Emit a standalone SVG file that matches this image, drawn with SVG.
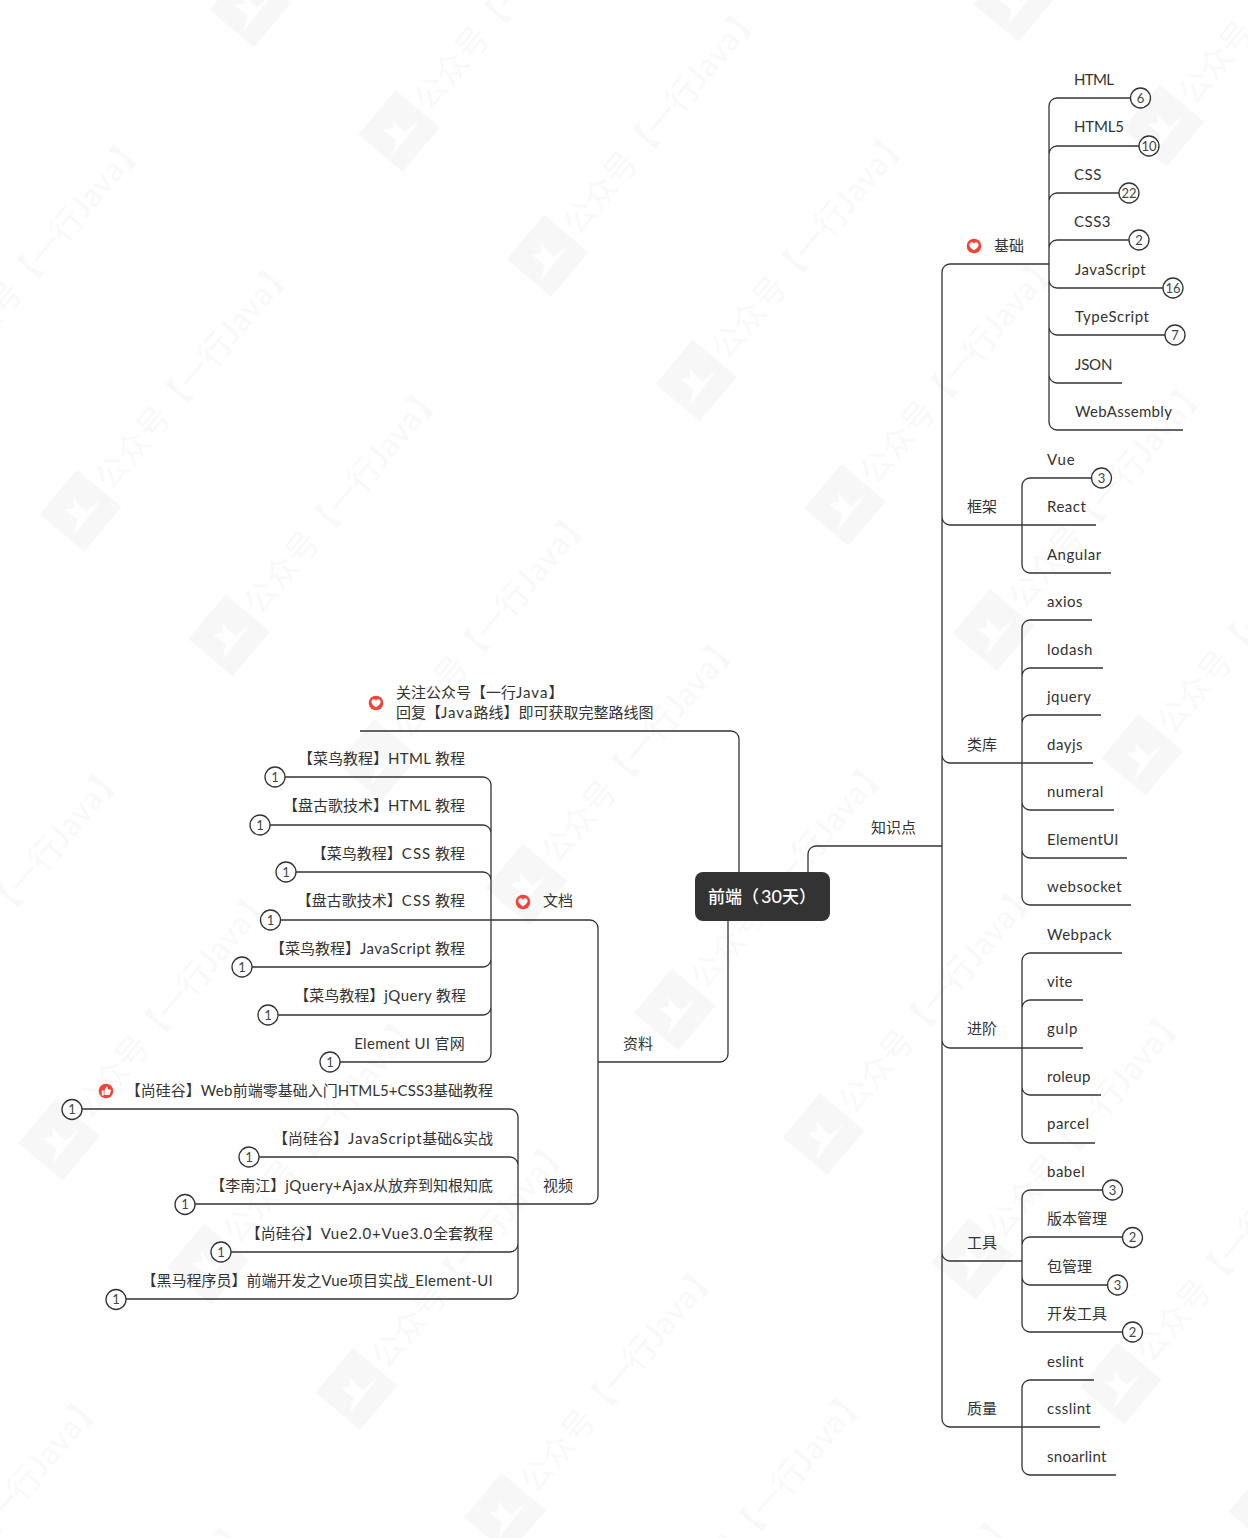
<svg xmlns="http://www.w3.org/2000/svg" width="1248" height="1538" viewBox="0 0 1248 1538">
<style>
text{font-family:Lato,"Noto Sans CJK SC",sans-serif;font-size:15px;fill:#333}
.e{text-anchor:end}
.n{font-size:13px;text-anchor:middle;fill:#444}
.c{fill:#fff;stroke:#333;stroke-width:1.3}
.l{fill:none;stroke:#333;stroke-width:1.3}
.wm{font-size:32px;fill:#f8f8f8}
.s{letter-spacing:.5px}
.t{letter-spacing:.3px}
.u{letter-spacing:.8px}
.v{letter-spacing:1px}
</style>
<defs>
<pattern id="wmp" patternUnits="userSpaceOnUse" width="194" height="495.5" patternTransform="translate(594.7 -253.1) rotate(40)">
<rect x="68" y="391" width="58" height="58" fill="#f7f7f7"/>
<path transform="translate(97 420) rotate(-40)" d="M21-11L8 6 1 15-7 25-3 9-16-1-6-3-7-13 0-4 6 1z" fill="#fff"/>
<text class="wm" transform="translate(97 386) rotate(-90) translate(0 11)">公众号【一行<tspan class="v">Java</tspan>】</text>
</pattern>
<g id="heart"><circle r="7.3" fill="#f44336"/><path d="M0 4.6C-3.6 2-4.6.4-4.6-1.2-4.6-3.8-1.3-4.6 0-2.2 1.3-4.6 4.6-3.8 4.6-1.2 4.6.4 3.6 2 0 4.6z" fill="#fff"/></g>
<g id="thumb"><circle r="7.3" fill="#f44336"/><path d="M-4.2-.6h1.9v5h-1.9zM-1.5-.6l2-4c1.3 0 1.6 1 1.3 2.1l-.3 1.1h2.4c.8 0 1.1.6.9 1.3l-.9 3.4c-.1.4-.4.6-.9.6h-4.5z" fill="#fff"/></g>
</defs>
<rect width="1248" height="1538" fill="#fff"/>
<rect width="1248" height="1538" fill="url(#wmp)"/>
<g id="connectors" class="l">
<path class="l" d="M808 872V854a8 8 0 0 1 8-8H942"/>
<path class="l" d="M950 264a8 8 0 0 0-8 8V1419a8 8 0 0 0 8 8H1022M942 517a8 8 0 0 0 8 8H1022M942 755a8 8 0 0 0 8 8H1022M942 1040a8 8 0 0 0 8 8H1022M942 1253a8 8 0 0 0 8 8H1022M950 264H1049"/>
<path class="l" d="M1057 98a8 8 0 0 0-8 8V422a8 8 0 0 0 8 8H1183M1057 98H1130M1049 154a8 8 0 0 1 8-8H1139M1049 201a8 8 0 0 1 8-8H1119M1049 248a8 8 0 0 1 8-8H1129M1049 280a8 8 0 0 0 8 8H1163M1049 327a8 8 0 0 0 8 8H1165M1049 375a8 8 0 0 0 8 8H1122"/>
<path class="l" d="M1030 478a8 8 0 0 0-8 8V565a8 8 0 0 0 8 8H1111M1030 478H1091M1022 525H1096"/>
<path class="l" d="M1030 620a8 8 0 0 0-8 8V897a8 8 0 0 0 8 8H1131M1030 620H1092M1022 676a8 8 0 0 1 8-8H1103M1022 723a8 8 0 0 1 8-8H1101M1022 763H1093M1022 802a8 8 0 0 0 8 8H1114M1022 850a8 8 0 0 0 8 8H1127"/>
<path class="l" d="M1030 953a8 8 0 0 0-8 8V1135a8 8 0 0 0 8 8H1095M1030 953H1122M1022 1008a8 8 0 0 1 8-8H1083M1022 1048H1083M1022 1087a8 8 0 0 0 8 8H1101"/>
<path class="l" d="M1030 1190a8 8 0 0 0-8 8V1324a8 8 0 0 0 8 8H1122M1030 1190H1102M1022 1245a8 8 0 0 1 8-8H1122M1022 1277a8 8 0 0 0 8 8H1107"/>
<path class="l" d="M1030 1380a8 8 0 0 0-8 8V1467a8 8 0 0 0 8 8H1116M1030 1380H1094M1022 1427H1100"/>
<path class="l" d="M739 872V739a8 8 0 0 0-8-8H360"/>
<path class="l" d="M728 921V1054a8 8 0 0 1-8 8H598"/>
<path class="l" d="M590 920a8 8 0 0 1 8 8V1196a8 8 0 0 1-8 8H185M590 920H270"/>
<path class="l" d="M483 777a8 8 0 0 1 8 8V1054a8 8 0 0 1-8 8H340M483 777H285M491 833a8 8 0 0 0-8-8H270M491 880a8 8 0 0 0-8-8H296M491 959a8 8 0 0 1-8 8H252M491 1007a8 8 0 0 1-8 8H278"/>
<path class="l" d="M510 1109a8 8 0 0 1 8 8V1291a8 8 0 0 1-8 8H126M510 1109H82M518 1165a8 8 0 0 0-8-8H259M518 1244a8 8 0 0 1-8 8H231"/>
</g>
<g id="root"><rect x="695" y="872" width="135" height="49" rx="8" fill="#333"/><text x="708" y="903" style="font-size:17px;fill:#fff;font-weight:500">前端（<tspan dx="2" style="font-size:18px">30</tspan>天）</text></g>
<g id="n-zsd"><text x="871" y="833">知识点</text></g>
<g id="n-jc"><use href="#heart" x="974" y="246"/><text x="994" y="251">基础</text></g>
<g id="n-html"><text x="1074" y="85" style="letter-spacing:-.7px">HTML</text><circle class="c" cx="1140.5" cy="98" r="10"/><text class="n" x="1140.5" y="102.500">6</text></g>
<g id="n-html5"><text x="1074" y="132" style="letter-spacing:-.2px">HTML5</text><circle class="c" cx="1149" cy="146" r="10"/><text class="n" x="1149" y="150.500">10</text></g>
<g id="n-css"><text class="s" x="1074" y="180">CSS</text><circle class="c" cx="1129" cy="193" r="10"/><text class="n" x="1129" y="197.500">22</text></g>
<g id="n-css3"><text class="s" x="1074" y="227">CSS3</text><circle class="c" cx="1139" cy="240" r="10"/><text class="n" x="1139" y="244.500">2</text></g>
<g id="n-js"><text class="s" x="1075" y="275">JavaScript</text><circle class="c" cx="1173" cy="288" r="10"/><text class="n" x="1173" y="292.500">16</text></g>
<g id="n-ts"><text class="s" x="1075" y="322">TypeScript</text><circle class="c" cx="1175" cy="335" r="10"/><text class="n" x="1175" y="339.500">7</text></g>
<g id="n-json"><text x="1075" y="370" style="letter-spacing:-.2px">JSON</text></g>
<g id="n-wasm"><text class="t" x="1075" y="417">WebAssembly</text></g>
<g id="n-kj"><text x="967" y="512">框架</text></g>
<g id="n-vue"><text class="v" x="1047" y="465">Vue</text><circle class="c" cx="1101.500" cy="478" r="10"/><text class="n" x="1101.500" y="482.500">3</text></g>
<g id="n-react"><text class="s" x="1047" y="512">React</text></g>
<g id="n-angular"><text class="s" x="1047" y="560">Angular</text></g>
<g id="n-lk"><text x="967" y="750">类库</text></g>
<g id="n-axios"><text class="s" x="1047" y="607">axios</text></g>
<g id="n-lodash"><text class="s" x="1047" y="655">lodash</text></g>
<g id="n-jquery"><text class="s" x="1047" y="702">jquery</text></g>
<g id="n-dayjs"><text class="s" x="1047" y="750">dayjs</text></g>
<g id="n-numeral"><text class="s" x="1047" y="797">numeral</text></g>
<g id="n-elementui"><text class="t" x="1047" y="845">ElementUI</text></g>
<g id="n-websocket"><text class="s" x="1047" y="892">websocket</text></g>
<g id="n-jj"><text x="967" y="1034">进阶</text></g>
<g id="n-webpack"><text class="s" x="1047" y="940">Webpack</text></g>
<g id="n-vite"><text class="t" x="1047" y="987">vite</text></g>
<g id="n-gulp"><text class="u" x="1047" y="1034">gulp</text></g>
<g id="n-roleup"><text class="t" x="1047" y="1082">roleup</text></g>
<g id="n-parcel"><text class="s" x="1047" y="1129">parcel</text></g>
<g id="n-gj"><text x="967" y="1248">工具</text></g>
<g id="n-babel"><text class="s" x="1047" y="1177">babel</text><circle class="c" cx="1112.500" cy="1190" r="10"/><text class="n" x="1112.500" y="1194.500">3</text></g>
<g id="n-bbgl"><text x="1047" y="1224">版本管理</text><circle class="c" cx="1132.500" cy="1237.500" r="10"/><text class="n" x="1132.500" y="1242">2</text></g>
<g id="n-bgl"><text x="1047" y="1272">包管理</text><circle class="c" cx="1117.500" cy="1285" r="10"/><text class="n" x="1117.500" y="1289.500">3</text></g>
<g id="n-kfgj"><text x="1047" y="1319">开发工具</text><circle class="c" cx="1132.500" cy="1332" r="10"/><text class="n" x="1132.500" y="1336.500">2</text></g>
<g id="n-zl"><text x="967" y="1414">质量</text></g>
<g id="n-eslint"><text class="t" x="1047" y="1367">eslint</text></g>
<g id="n-csslint"><text class="s" x="1047" y="1414">csslint</text></g>
<g id="n-snoarlint"><text class="t" x="1047" y="1462">snoarlint</text></g>
<g id="n-gz"><use href="#heart" x="376" y="703"/><text x="396" y="698">关注公众号【一行<tspan class="v">Java</tspan>】</text><text x="396" y="718">回复【<tspan class="v">Java</tspan>路线】即可获取完整路线图</text></g>
<g id="n-zl2"><text x="623" y="1049">资料</text></g>
<g id="n-wd"><use href="#heart" x="523" y="902"/><text x="543" y="906">文档</text></g>
<g id="n-sp"><text x="543" y="1191">视频</text></g>
<g id="d1"><text class="e" x="465" y="764">【菜鸟教程】<tspan class="t">HTML</tspan> 教程</text><circle class="c" cx="275" cy="777" r="10"/><text class="n" x="275" y="781.500">1</text></g>
<g id="d2"><text class="e" x="465" y="811">【盘古歌技术】<tspan class="t">HTML</tspan> 教程</text><circle class="c" cx="260" cy="825" r="10"/><text class="n" x="260" y="829.500">1</text></g>
<g id="d3"><text class="e" x="465" y="859">【菜鸟教程】<tspan class="v">CSS</tspan> 教程</text><circle class="c" cx="286" cy="872" r="10"/><text class="n" x="286" y="876.500">1</text></g>
<g id="d4"><text class="e" x="465" y="906">【盘古歌技术】<tspan class="v">CSS</tspan> 教程</text><circle class="c" cx="270.500" cy="920" r="10"/><text class="n" x="270.500" y="924.500">1</text></g>
<g id="d5"><text class="e" x="465" y="954">【菜鸟教程】<tspan class="s">JavaScript</tspan> 教程</text><circle class="c" cx="242" cy="967" r="10"/><text class="n" x="242" y="971.500">1</text></g>
<g id="d6"><text class="e" x="466" y="1001">【菜鸟教程】<tspan class="s">jQuery</tspan> 教程</text><circle class="c" cx="268" cy="1015" r="10"/><text class="n" x="268" y="1019.500">1</text></g>
<g id="d7"><text class="e t" x="465" y="1049">Element UI 官网</text><circle class="c" cx="330" cy="1062" r="10"/><text class="n" x="330" y="1066.500">1</text></g>
<g id="v1"><use href="#thumb" x="106" y="1091"/><text class="e" x="493" y="1096">【尚硅谷】<tspan class="t">Web</tspan>前端零基础入门<tspan style="letter-spacing:.1px">HTML5+CSS3</tspan>基础教程</text><circle class="c" cx="72" cy="1109.500" r="10"/><text class="n" x="72" y="1114">1</text></g>
<g id="v2"><text class="e" x="493" y="1144">【尚硅谷】<tspan class="u">JavaScript</tspan>基础&amp;实战</text><circle class="c" cx="249" cy="1157" r="10"/><text class="n" x="249" y="1161.500">1</text></g>
<g id="v3"><text class="e" x="493" y="1191">【李南江】<tspan class="s">jQuery+Ajax</tspan>从放弃到知根知底</text><circle class="c" cx="185" cy="1204.500" r="10"/><text class="n" x="185" y="1209">1</text></g>
<g id="v4"><text class="e" x="493" y="1239">【尚硅谷】<tspan class="u">Vue2.0+Vue3.0</tspan>全套教程</text><circle class="c" cx="221" cy="1252" r="10"/><text class="n" x="221" y="1256.500">1</text></g>
<g id="v5"><text class="e" x="493" y="1286">【黑马程序员】前端开发之<tspan class="t">Vue</tspan>项目实战<tspan class="t">_Element-UI</tspan></text><circle class="c" cx="116" cy="1299.500" r="10"/><text class="n" x="116" y="1304">1</text></g>
</svg>
